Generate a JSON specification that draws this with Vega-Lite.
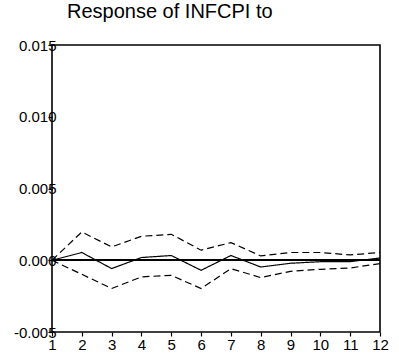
{
  "$schema": "https://vega.github.io/schema/vega-lite/v6.json",
  "width": 328,
  "height": 287,
  "autosize": {"type": "none"},
  "padding": {"left": 52, "top": 45, "right": 19, "bottom": 26},
  "background": "white",
  "config": {
    "font": "Liberation Sans",
    "view": {"stroke": "black", "strokeWidth": 1.6},
    "axis": {"grid": false, "domain": false, "tickColor": "black", "labelColor": "black", "labelFont": "Liberation Sans", "labelFontSize": 15, "tickSize": 4, "tickWidth": 1.2}
  },
  "title": {"text": "Response of INFCPI to", "anchor": "start", "frame": "group", "dx": 15, "offset": 0, "baseline": "alphabetic", "fontSize": 20, "fontWeight": "normal", "font": "Liberation Sans", "color": "black"},
  "data": {"values": [
    {"period": 1, "series": "irf", "band": "irf", "value": 0},
    {"period": 2, "series": "irf", "band": "irf", "value": 0.00054},
    {"period": 3, "series": "irf", "band": "irf", "value": -0.00058},
    {"period": 4, "series": "irf", "band": "irf", "value": 0.00019},
    {"period": 5, "series": "irf", "band": "irf", "value": 0.00033},
    {"period": 6, "series": "irf", "band": "irf", "value": -0.0007},
    {"period": 7, "series": "irf", "band": "irf", "value": 0.00033},
    {"period": 8, "series": "irf", "band": "irf", "value": -0.00047},
    {"period": 9, "series": "irf", "band": "irf", "value": -0.00021},
    {"period": 10, "series": "irf", "band": "irf", "value": -0.0001},
    {"period": 11, "series": "irf", "band": "irf", "value": -0.0001},
    {"period": 12, "series": "irf", "band": "irf", "value": 0.00016},
    {"period": 1, "series": "upper", "band": "se", "value": 0},
    {"period": 2, "series": "upper", "band": "se", "value": 0.00197},
    {"period": 3, "series": "upper", "band": "se", "value": 0.00093},
    {"period": 4, "series": "upper", "band": "se", "value": 0.00167},
    {"period": 5, "series": "upper", "band": "se", "value": 0.00181},
    {"period": 6, "series": "upper", "band": "se", "value": 0.0007},
    {"period": 7, "series": "upper", "band": "se", "value": 0.00123},
    {"period": 8, "series": "upper", "band": "se", "value": 0.0003},
    {"period": 9, "series": "upper", "band": "se", "value": 0.00054},
    {"period": 10, "series": "upper", "band": "se", "value": 0.00054},
    {"period": 11, "series": "upper", "band": "se", "value": 0.00037},
    {"period": 12, "series": "upper", "band": "se", "value": 0.00054},
    {"period": 1, "series": "lower", "band": "se", "value": 0},
    {"period": 2, "series": "lower", "band": "se", "value": -0.00098},
    {"period": 3, "series": "lower", "band": "se", "value": -0.00197},
    {"period": 4, "series": "lower", "band": "se", "value": -0.00116},
    {"period": 5, "series": "lower", "band": "se", "value": -0.00105},
    {"period": 6, "series": "lower", "band": "se", "value": -0.00197},
    {"period": 7, "series": "lower", "band": "se", "value": -0.00058},
    {"period": 8, "series": "lower", "band": "se", "value": -0.00121},
    {"period": 9, "series": "lower", "band": "se", "value": -0.00077},
    {"period": 10, "series": "lower", "band": "se", "value": -0.00063},
    {"period": 11, "series": "lower", "band": "se", "value": -0.00054},
    {"period": 12, "series": "lower", "band": "se", "value": -0.00023}
  ]},
  "encoding": {
    "x": {"field": "period", "type": "quantitative", "scale": {"domain": [1, 12], "nice": false, "zero": false},
          "axis": {"title": null, "values": [1,2,3,4,5,6,7,8,9,10,11,12], "labelPadding": 1, "labelFlush": false}},
    "y": {"field": "value", "type": "quantitative", "scale": {"domain": [-0.005, 0.015], "nice": false, "zero": false},
          "axis": {"title": null, "values": [-0.005, 0, 0.005, 0.01, 0.015], "labelExpr": "replace(format(datum.value, '.3f'), '\u2212', '-')", "labelPadding": -8, "labelFlush": false}}
  },
  "layer": [
    {"mark": {"type": "rule", "color": "black", "strokeWidth": 0.8}, "encoding": {"x": null, "y": {"datum": 0}}},
    {"mark": {"type": "line", "color": "black", "strokeWidth": 1.2},
     "encoding": {
       "detail": {"field": "series", "type": "nominal"},
       "strokeDash": {"field": "band", "type": "nominal", "scale": {"domain": ["irf", "se"], "range": [[1, 0], [7, 4]]}, "legend": null}
     }}
  ]
}
